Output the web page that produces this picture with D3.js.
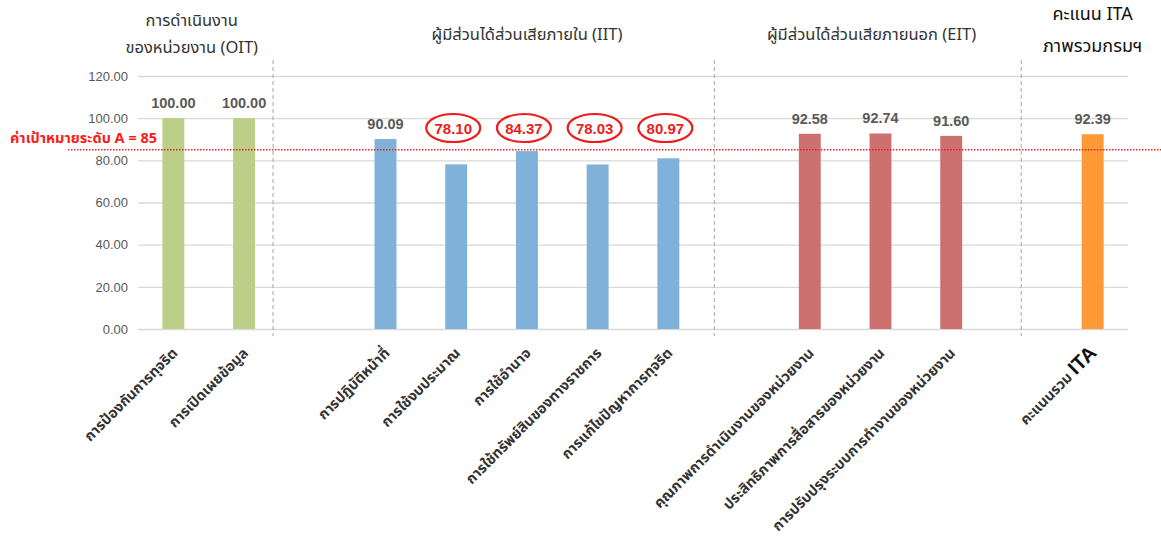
<!DOCTYPE html>
<html>
<head>
<meta charset="utf-8">
<script src="https://cdn.jsdelivr.net/npm/d3@7"></script>
<style>
	body { margin: 0; background: #fff; }
	text { font-family: "Noto Sans Thai", "Noto Sans", "DejaVu Sans", sans-serif; }
</style>
</head>
<body>
<div id="chart"></div>
<script>

// data
const oitCategories = ["การป้องกันการทุจริต", "การเปิดเผยข้อมูล"]
const oitValues = [100.00, 100.00]
const iitCategories = ["การปฏิบัติหน้าที่", "การใช้งบประมาณ", "การใช้อำนาจ", "การใช้ทรัพย์สินของทางราชการ", "การแก้ไขปัญหาการทุจริต"]
const iitValues = [90.09, 78.10, 84.37, 78.03, 80.97]
const eitCategories = ["คุณภาพการดำเนินงานของหน่วยงาน", "ประสิทธิภาพการสื่อสารของหน่วยงาน", "การปรับปรุงระบบการทำงานของหน่วยงาน"]
const eitValues = [92.58, 92.74, 91.60]
const itaCategories = ["คะแนนรวม ITA"]
const itaValues = [92.39]
const groupTitles = [["การดำเนินงาน", "ของหน่วยงาน (OIT)"], ["ผู้มีส่วนได้ส่วนเสียภายใน (IIT)"], ["ผู้มีส่วนได้ส่วนเสียภายนอก (EIT)"], ["คะแนน ITA", "ภาพรวมกรมฯ"]]
const targetValue = 85
const targetLabel = "ค่าเป้าหมายระดับ A = 85"
const yTicks = [0, 20, 40, 60, 80, 100, 120]

const width = 1161, height = 539
const colors = ["#bccf88", "#80b1d8", "#cd7070", "#fd9a35"]

// build slots, one empty slot between groups
const groupData = [[oitCategories, oitValues], [iitCategories, iitValues], [eitCategories, eitValues], [itaCategories, itaValues]]
var slots = []
groupData.forEach(function(g, gi){
	if (gi > 0) slots.push({key: "gap" + gi, gap: true})
	g[0].forEach(function(c, i){
		slots.push({key: c, label: c, value: g[1][i], group: gi})
	})
})
const bars = slots.filter(d => !d.gap)

var svg = d3.select("#chart").append("svg")
	.attr("width", width)
	.attr("height", height)
	.style("display", "block")

var x = d3.scaleBand()
	.domain(slots.map(d => d.key))
	.range([138, 1128])
	.paddingInner(0.69)
	.paddingOuter(0.345)

var y = d3.scaleLinear()
	.domain([0, 120])
	.range([329, 76])

// gridlines + y labels
var yAxis = svg.append("g")
	.attr("transform", "translate(138,0)")
	.call(d3.axisLeft(y).tickValues(yTicks).tickFormat(d3.format(".2f")).tickSize(-990).tickPadding(10))
yAxis.select(".domain").remove()
yAxis.selectAll(".tick line").attr("stroke", "#d9d9d9").attr("stroke-width", 1.3)
yAxis.selectAll(".tick text")
	.attr("fill", "#595959")
	.style("font-family", "'Liberation Sans', Arial, sans-serif")
	.style("font-size", "13px")

// dashed group separators (in slot units)
const sepSlots = [1.91, 8.15, 12.49]
svg.append("g").selectAll("line")
	.data(sepSlots)
	.enter()
	.append("line")
		.attr("x1", d => 138 + d * x.step())
		.attr("x2", d => 138 + d * x.step())
		.attr("y1", 60)
		.attr("y2", 336)
		.attr("stroke", "#a6a6a6")
		.attr("stroke-width", 1)
		.attr("stroke-dasharray", "4,3")

// group titles
const titleShift = [-17, 0, -9, 0]
const titleY = [[26, 53], [40], [40], [20, 52]]
groupTitles.forEach(function(lines, gi){
	var gb = bars.filter(d => d.group === gi)
	var cx = (x(gb[0].key) + x(gb[gb.length - 1].key) + x.bandwidth()) / 2 + titleShift[gi]
	lines.forEach(function(t, li){
		svg.append("text")
			.attr("x", cx)
			.attr("y", titleY[gi][li])
			.attr("text-anchor", "middle")
			.attr("fill", gi === 3 ? "#111" : "#333")
			.style("font-size", gi === 3 ? "18px" : "16.5px")
			.text(t)
	})
})

// bars
svg.append("g").selectAll("rect")
	.data(bars)
	.enter()
	.append("rect")
		.attr("x", d => x(d.key))
		.attr("y", d => y(d.value))
		.attr("width", x.bandwidth())
		.attr("height", d => y(0) - y(d.value))
		.attr("fill", d => colors[d.group])

// target line
svg.append("line")
	.attr("x1", 68)
	.attr("x2", width)
	.attr("y1", y(targetValue))
	.attr("y2", y(targetValue))
	.attr("stroke", "#e0282c")
	.attr("stroke-width", 1.5)
	.attr("stroke-dasharray", "1.5,1.5")

svg.append("text")
	.attr("x", 10)
	.attr("y", 143)
	.attr("fill", "#ff1a1a")
	.style("font-size", "14.5px")
	.style("font-weight", "bold")
	.text(targetLabel)

// value labels
const below = bars.filter(d => d.value < targetValue)
const above = bars.filter(d => d.value >= targetValue)

svg.append("g").selectAll("text")
	.data(above)
	.enter()
	.append("text")
		.attr("x", d => x(d.key) + x.bandwidth() / 2)
		.attr("y", d => y(d.value) - 10)
		.attr("text-anchor", "middle")
		.attr("fill", "#595959")
		.style("font-family", "'Liberation Sans', Arial, sans-serif")
		.style("font-size", "14.5px")
		.style("font-weight", "bold")
		.text(d => d3.format(".2f")(d.value))

// values below target: circled in red at a fixed height
var circ = svg.append("g").selectAll("g")
	.data(below)
	.enter()
	.append("g")
		.attr("transform", d => "translate(" + (x(d.key) + x.bandwidth() / 2 - 3) + ",128)")
circ.append("ellipse")
	.attr("rx", 27)
	.attr("ry", 14)
	.attr("fill", "#fff")
	.attr("stroke", "#ee1c1c")
	.attr("stroke-width", 2.2)
circ.append("text")
	.attr("y", 5.5)
	.attr("text-anchor", "middle")
	.attr("fill", "#ee1c1c")
	.style("font-family", "'Liberation Sans', Arial, sans-serif")
	.style("font-size", "15px")
	.style("font-weight", "bold")
	.text(d => d3.format(".2f")(d.value))

// rotated category labels
var xl = svg.append("g").selectAll("text")
	.data(bars)
	.enter()
	.append("text")
		.attr("transform", d => "translate(" + (x(d.key) + x.bandwidth() / 2 + 5) + ",354) rotate(-45)")
		.attr("text-anchor", "end")
		.attr("fill", "#333")
		.style("font-size", "14.5px")
		.style("font-weight", "bold")

xl.each(function(d){
	var t = d3.select(this)
	if (d.label.endsWith("ITA")) {
		t.append("tspan").text(d.label.replace("ITA", ""))
		t.append("tspan")
			.attr("fill", "#111")
			.style("font-family", "'Liberation Sans', Arial, sans-serif")
			.style("font-size", "20px")
			.style("font-weight", "bold")
			.text("ITA")
	} else {
		t.text(d.label)
	}
})

</script>
</body>
</html>
